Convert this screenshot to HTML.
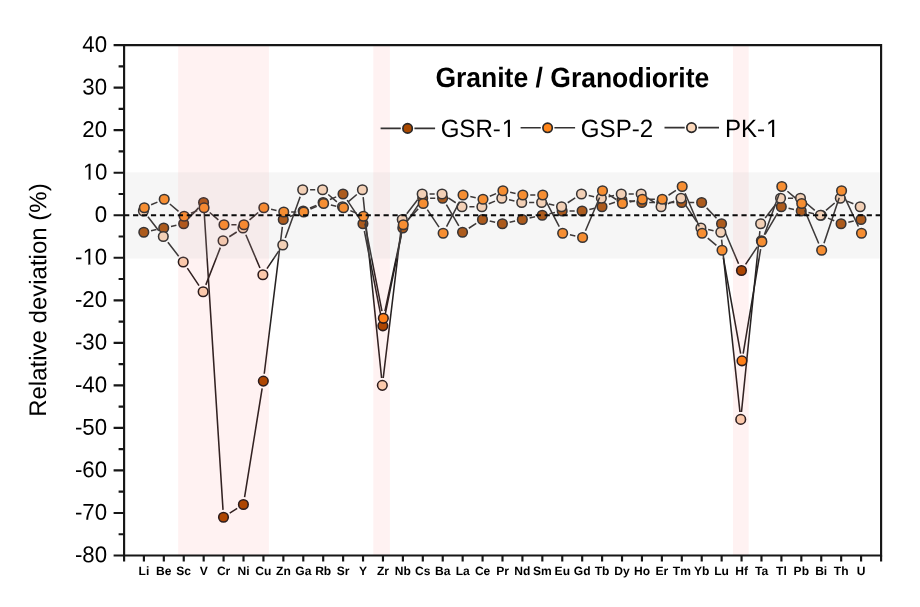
<!DOCTYPE html>
<html lang="en">
<head>
<meta charset="utf-8">
<title>Granite / Granodiorite – Relative deviation (%)</title>
<style>
html,body{margin:0;padding:0;background:#fff;}
body{width:920px;height:607px;overflow:hidden;position:relative;font-family:"Liberation Sans",Arial,sans-serif;}
</style>
</head>
<body>
<svg width="920" height="607" viewBox="0 0 920 607" style="display:block;position:absolute;left:0;top:0">
<rect x="0" y="0" width="920" height="607" fill="#fff"/>
<path d="M151.04 230.70L156.49 229.53M170.96 226.44L176.41 225.28M188.71 218.34L198.51 207.87M204.04 209.86L223.02 509.83M229.72 513.22L237.18 508.45M244.59 497.15L262.15 388.41M264.24 373.76L282.35 226.83M290.06 216.58L296.37 213.88M309.98 208.07L316.29 205.38M329.91 199.56L336.22 196.87M347.14 200.11L358.83 217.59M364.36 231.00L381.45 318.55M384.34 318.56L401.31 235.24M406.90 221.84L418.59 204.37M430.11 198.22L435.23 198.22M446.37 204.60L458.82 225.86M468.79 228.25L476.24 223.47M489.71 221.03L495.16 222.19M509.63 222.19L515.08 221.03M529.56 217.94L535.01 216.78M549.48 213.68L554.93 212.52M569.56 210.98L574.69 210.98M589.32 209.43L594.77 208.27M609.01 204.33L614.93 202.31M629.27 200.86L634.51 201.53M649.25 202.47L654.37 202.47M669.17 202.47L674.30 202.47M689.10 202.47L694.22 202.47M706.68 207.87L716.48 218.34M724.44 230.55L738.56 263.71M745.58 264.37L757.27 246.90M765.12 234.36L777.57 213.11M788.54 208.27L793.99 209.43M808.46 212.52L813.91 213.68M827.96 218.14L834.27 220.83M848.31 222.19L853.76 221.03" fill="none" stroke="#262222" stroke-width="1.55"/>
<g fill="#a94900" stroke="#201c1c" stroke-width="1.55">
<circle cx="143.80" cy="232.24" r="4.80"/>
<circle cx="163.72" cy="227.99" r="4.80"/>
<circle cx="183.65" cy="223.74" r="4.80"/>
<circle cx="203.57" cy="202.47" r="4.80"/>
<circle cx="223.49" cy="517.21" r="4.80"/>
<circle cx="243.41" cy="504.45" r="4.80"/>
<circle cx="263.33" cy="381.11" r="4.80"/>
<circle cx="283.26" cy="219.48" r="4.80"/>
<circle cx="303.18" cy="210.98" r="4.80"/>
<circle cx="323.10" cy="202.47" r="4.80"/>
<circle cx="343.02" cy="193.96" r="4.80"/>
<circle cx="362.94" cy="223.74" r="4.80"/>
<circle cx="382.87" cy="325.82" r="4.80"/>
<circle cx="402.79" cy="227.99" r="4.80"/>
<circle cx="422.71" cy="198.22" r="4.80"/>
<circle cx="442.63" cy="198.22" r="4.80"/>
<circle cx="462.55" cy="232.24" r="4.80"/>
<circle cx="482.48" cy="219.48" r="4.80"/>
<circle cx="502.40" cy="223.74" r="4.80"/>
<circle cx="522.32" cy="219.48" r="4.80"/>
<circle cx="542.24" cy="215.23" r="4.80"/>
<circle cx="562.16" cy="210.98" r="4.80"/>
<circle cx="582.09" cy="210.98" r="4.80"/>
<circle cx="602.01" cy="206.72" r="4.80"/>
<circle cx="621.93" cy="199.92" r="4.80"/>
<circle cx="641.85" cy="202.47" r="4.80"/>
<circle cx="661.77" cy="202.47" r="4.80"/>
<circle cx="681.70" cy="202.47" r="4.80"/>
<circle cx="701.62" cy="202.47" r="4.80"/>
<circle cx="721.54" cy="223.74" r="4.80"/>
<circle cx="741.46" cy="270.52" r="4.80"/>
<circle cx="761.38" cy="240.75" r="4.80"/>
<circle cx="781.31" cy="206.72" r="4.80"/>
<circle cx="801.23" cy="210.98" r="4.80"/>
<circle cx="821.15" cy="215.23" r="4.80"/>
<circle cx="841.07" cy="223.74" r="4.80"/>
<circle cx="860.99" cy="219.48" r="4.80"/>
</g>
<path d="M147.95 216.81L158.76 230.66M167.87 242.33L178.67 256.18M187.34 268.17L199.02 285.64M205.82 284.90L220.36 247.64M229.28 236.76L236.73 231.98M245.85 234.80L259.97 267.97M266.98 268.62L278.67 251.15M285.29 238.04L300.18 196.67M310.09 189.71L315.20 189.71M328.23 194.52L336.89 201.92M348.14 201.92L356.80 194.52M363.17 197.07L381.58 378.00M383.22 378.01L401.36 226.83M406.80 213.65L417.60 199.80M429.56 193.96L434.67 193.96M448.30 197.96L455.75 202.73M469.38 206.72L474.49 206.72M488.69 203.82L495.00 201.12M509.04 199.76L514.47 200.92M529.11 202.47L534.22 202.47M548.86 204.02L554.30 205.18M567.76 202.73L575.21 197.96M588.68 195.51L594.12 196.67M608.59 196.67L614.03 195.51M628.67 193.96L633.78 193.96M647.41 197.96L654.86 202.73M667.89 203.82L674.19 201.12M685.11 204.37L696.80 221.84M708.15 229.54L713.58 230.70M721.60 239.60L739.95 412.03M741.48 412.03L759.89 231.10M765.20 217.90L776.00 204.05M787.95 198.22L793.07 198.22M806.09 203.02L814.75 210.42M826.00 210.42L834.66 203.02M847.09 201.12L853.39 203.82" fill="none" stroke="#262222" stroke-width="1.55"/>
<g fill="#fbd3b4" stroke="#201c1c" stroke-width="1.55">
<circle cx="143.40" cy="210.98" r="4.80"/>
<circle cx="163.31" cy="236.50" r="4.80"/>
<circle cx="183.22" cy="262.02" r="4.80"/>
<circle cx="203.14" cy="291.79" r="4.80"/>
<circle cx="223.05" cy="240.75" r="4.80"/>
<circle cx="242.96" cy="227.99" r="4.80"/>
<circle cx="262.87" cy="274.78" r="4.80"/>
<circle cx="282.78" cy="245.00" r="4.80"/>
<circle cx="302.69" cy="189.71" r="4.80"/>
<circle cx="322.60" cy="189.71" r="4.80"/>
<circle cx="342.51" cy="206.72" r="4.80"/>
<circle cx="362.42" cy="189.71" r="4.80"/>
<circle cx="382.33" cy="385.36" r="4.80"/>
<circle cx="402.25" cy="219.48" r="4.80"/>
<circle cx="422.16" cy="193.96" r="4.80"/>
<circle cx="442.07" cy="193.96" r="4.80"/>
<circle cx="461.98" cy="206.72" r="4.80"/>
<circle cx="481.89" cy="206.72" r="4.80"/>
<circle cx="501.80" cy="198.22" r="4.80"/>
<circle cx="521.71" cy="202.47" r="4.80"/>
<circle cx="541.62" cy="202.47" r="4.80"/>
<circle cx="561.53" cy="206.72" r="4.80"/>
<circle cx="581.44" cy="193.96" r="4.80"/>
<circle cx="601.36" cy="198.22" r="4.80"/>
<circle cx="621.27" cy="193.96" r="4.80"/>
<circle cx="641.18" cy="193.96" r="4.80"/>
<circle cx="661.09" cy="206.72" r="4.80"/>
<circle cx="681.00" cy="198.22" r="4.80"/>
<circle cx="700.91" cy="227.99" r="4.80"/>
<circle cx="720.82" cy="232.24" r="4.80"/>
<circle cx="740.73" cy="419.39" r="4.80"/>
<circle cx="760.64" cy="223.74" r="4.80"/>
<circle cx="780.55" cy="198.22" r="4.80"/>
<circle cx="800.47" cy="198.22" r="4.80"/>
<circle cx="820.38" cy="215.23" r="4.80"/>
<circle cx="840.29" cy="198.22" r="4.80"/>
<circle cx="860.20" cy="206.72" r="4.80"/>
</g>
<path d="M151.11 204.82L157.42 202.12M169.85 204.02L178.52 211.42M190.95 213.32L197.26 210.63M209.70 212.53L218.36 219.93M231.39 224.74L236.51 224.74M249.54 219.93L258.21 212.53M271.07 209.27L276.52 210.43M291.16 211.98L296.28 211.98M310.48 209.07L316.79 206.38M330.84 205.02L336.29 206.18M350.33 210.63L356.64 213.32M364.86 223.49L381.95 311.05M384.91 311.07L401.75 231.97M408.35 219.34L418.15 208.87M427.33 209.62L439.02 227.09M446.55 226.68L459.64 201.53M470.29 196.51L475.74 197.67M489.78 196.31L496.09 193.62M510.13 192.26L515.58 193.42M530.22 194.96L535.34 194.96M546.16 201.53L559.25 226.68M569.90 234.79L575.35 235.95M585.49 230.69L599.61 197.52M608.74 194.70L616.20 199.48M629.67 201.93L635.12 200.76M649.75 199.22L654.87 199.22M668.51 195.23L675.96 190.45M685.10 193.27L699.22 226.43M707.75 238.05L716.41 245.45M723.35 257.54L740.65 353.56M743.18 353.54L760.66 249.05M764.39 234.79L779.30 193.42M787.43 191.26L796.10 198.66M804.63 210.28L818.75 243.45M824.00 243.24L839.22 197.73M844.71 197.41L858.36 226.54" fill="none" stroke="#262222" stroke-width="1.55"/>
<g fill="#ff8519" stroke="#201c1c" stroke-width="1.55">
<circle cx="144.30" cy="207.72" r="4.80"/>
<circle cx="164.22" cy="199.22" r="4.80"/>
<circle cx="184.15" cy="216.23" r="4.80"/>
<circle cx="204.07" cy="207.72" r="4.80"/>
<circle cx="223.99" cy="224.74" r="4.80"/>
<circle cx="243.91" cy="224.74" r="4.80"/>
<circle cx="263.83" cy="207.72" r="4.80"/>
<circle cx="283.76" cy="211.98" r="4.80"/>
<circle cx="303.68" cy="211.98" r="4.80"/>
<circle cx="323.60" cy="203.47" r="4.80"/>
<circle cx="343.52" cy="207.72" r="4.80"/>
<circle cx="363.44" cy="216.23" r="4.80"/>
<circle cx="383.37" cy="318.31" r="4.80"/>
<circle cx="403.29" cy="224.74" r="4.80"/>
<circle cx="423.21" cy="203.47" r="4.80"/>
<circle cx="443.13" cy="233.24" r="4.80"/>
<circle cx="463.05" cy="194.96" r="4.80"/>
<circle cx="482.98" cy="199.22" r="4.80"/>
<circle cx="502.90" cy="190.71" r="4.80"/>
<circle cx="522.82" cy="194.96" r="4.80"/>
<circle cx="542.74" cy="194.96" r="4.80"/>
<circle cx="562.66" cy="233.24" r="4.80"/>
<circle cx="582.59" cy="237.50" r="4.80"/>
<circle cx="602.51" cy="190.71" r="4.80"/>
<circle cx="622.43" cy="203.47" r="4.80"/>
<circle cx="642.35" cy="199.22" r="4.80"/>
<circle cx="662.27" cy="199.22" r="4.80"/>
<circle cx="682.20" cy="186.46" r="4.80"/>
<circle cx="702.12" cy="233.24" r="4.80"/>
<circle cx="722.04" cy="250.26" r="4.80"/>
<circle cx="741.96" cy="360.84" r="4.80"/>
<circle cx="761.88" cy="241.75" r="4.80"/>
<circle cx="781.81" cy="186.46" r="4.80"/>
<circle cx="801.73" cy="203.47" r="4.80"/>
<circle cx="821.65" cy="250.26" r="4.80"/>
<circle cx="841.57" cy="190.71" r="4.80"/>
<circle cx="861.49" cy="233.24" r="4.80"/>
</g>
<rect x="178.2" y="45.1" width="90.7" height="510.4" fill="#ff2020" fill-opacity="0.06"/>
<rect x="373.3" y="45.1" width="16.6" height="510.4" fill="#ff2020" fill-opacity="0.06"/>
<rect x="733" y="45.1" width="15.7" height="510.4" fill="#ff2020" fill-opacity="0.06"/>
<rect x="126.2" y="172.3" width="753.4" height="86.2" fill="#c3c3c3" fill-opacity="0.15"/>
<line x1="124.1" y1="215.2" x2="881.1" y2="215.2" stroke="#0a0a0a" stroke-width="2.15" stroke-dasharray="5.2 3.747"/>
<g stroke="#161616" stroke-width="2.15" fill="none" stroke-linecap="butt">
<path d="M124.1 45.1H881.1V555.5H124.1Z"/>
<path d="M124.1 555.49h-10.5M124.1 534.23h-5.5M124.1 512.96h-10.5M124.1 491.69h-5.5M124.1 470.43h-10.5M124.1 449.16h-5.5M124.1 427.89h-10.5M124.1 406.63h-5.5M124.1 385.36h-10.5M124.1 364.10h-5.5M124.1 342.83h-10.5M124.1 321.56h-5.5M124.1 300.30h-10.5M124.1 279.03h-5.5M124.1 257.76h-10.5M124.1 236.50h-5.5M124.1 215.23h-10.5M124.1 193.96h-5.5M124.1 172.70h-10.5M124.1 151.43h-5.5M124.1 130.16h-10.5M124.1 108.90h-5.5M124.1 87.63h-10.5M124.1 66.36h-5.5M124.1 45.10h-10.5M124.10 555.5v6M143.90 555.5v6M163.82 555.5v6M183.75 555.5v6M203.67 555.5v6M223.59 555.5v6M243.51 555.5v6M263.43 555.5v6M283.36 555.5v6M303.28 555.5v6M323.20 555.5v6M343.12 555.5v6M363.04 555.5v6M382.97 555.5v6M402.89 555.5v6M422.81 555.5v6M442.73 555.5v6M462.65 555.5v6M482.58 555.5v6M502.50 555.5v6M522.42 555.5v6M542.34 555.5v6M562.26 555.5v6M582.19 555.5v6M602.11 555.5v6M622.03 555.5v6M641.95 555.5v6M661.87 555.5v6M681.80 555.5v6M701.72 555.5v6M721.64 555.5v6M741.56 555.5v6M761.48 555.5v6M781.41 555.5v6M801.33 555.5v6M821.25 555.5v6M841.17 555.5v6M861.09 555.5v6M881.10 555.5v6"/>
</g>
<g font-family="'Liberation Sans', Arial, sans-serif" font-size="22.2" fill="#000" text-anchor="end">
<text transform="translate(107.0 562.3) rotate(0.05) scale(1 1.030)">-80</text>
<text transform="translate(107.0 519.8) rotate(0.05) scale(1 1.030)">-70</text>
<text transform="translate(107.0 477.2) rotate(0.05) scale(1 1.030)">-60</text>
<text transform="translate(107.0 434.7) rotate(0.05) scale(1 1.030)">-50</text>
<text transform="translate(107.0 392.2) rotate(0.05) scale(1 1.030)">-40</text>
<text transform="translate(107.0 349.6) rotate(0.05) scale(1 1.030)">-30</text>
<text transform="translate(107.0 307.1) rotate(0.05) scale(1 1.030)">-20</text>
<text transform="translate(107.0 264.6) rotate(0.05) scale(1 1.030)">-<tspan dx="0.4">1</tspan><tspan dx="-0.4">0</tspan></text>
<text transform="translate(107.0 222.0) rotate(0.05) scale(1 1.030)">0</text>
<text transform="translate(107.0 179.5) rotate(0.05) scale(1 1.030)"><tspan dx="0.4">1</tspan><tspan dx="-0.4">0</tspan></text>
<text transform="translate(107.0 137.0) rotate(0.05) scale(1 1.030)">20</text>
<text transform="translate(107.0 94.4) rotate(0.05) scale(1 1.030)">30</text>
<text transform="translate(107.0 51.9) rotate(0.05) scale(1 1.030)">40</text>
</g>
<g font-family="'Liberation Sans', Arial, sans-serif" font-size="12.05" font-weight="bold" fill="#000" text-anchor="middle">
<text transform="translate(143.9 575.0) rotate(0.05)">Li</text>
<text transform="translate(163.8 575.0) rotate(0.05)">Be</text>
<text transform="translate(183.7 575.0) rotate(0.05)">Sc</text>
<text transform="translate(203.7 575.0) rotate(0.05)">V</text>
<text transform="translate(223.6 575.0) rotate(0.05)">Cr</text>
<text transform="translate(243.5 575.0) rotate(0.05)">Ni</text>
<text transform="translate(263.4 575.0) rotate(0.05)">Cu</text>
<text transform="translate(283.4 575.0) rotate(0.05)">Zn</text>
<text transform="translate(303.3 575.0) rotate(0.05)">Ga</text>
<text transform="translate(323.2 575.0) rotate(0.05)">Rb</text>
<text transform="translate(343.1 575.0) rotate(0.05)">Sr</text>
<text transform="translate(363.0 575.0) rotate(0.05)">Y</text>
<text transform="translate(383.0 575.0) rotate(0.05)">Zr</text>
<text transform="translate(402.9 575.0) rotate(0.05)">Nb</text>
<text transform="translate(422.8 575.0) rotate(0.05)">Cs</text>
<text transform="translate(442.7 575.0) rotate(0.05)">Ba</text>
<text transform="translate(462.7 575.0) rotate(0.05)">La</text>
<text transform="translate(482.6 575.0) rotate(0.05)">Ce</text>
<text transform="translate(502.5 575.0) rotate(0.05)">Pr</text>
<text transform="translate(522.4 575.0) rotate(0.05)">Nd</text>
<text transform="translate(542.3 575.0) rotate(0.05)">Sm</text>
<text transform="translate(562.3 575.0) rotate(0.05)">Eu</text>
<text transform="translate(582.2 575.0) rotate(0.05)">Gd</text>
<text transform="translate(602.1 575.0) rotate(0.05)">Tb</text>
<text transform="translate(622.0 575.0) rotate(0.05)">Dy</text>
<text transform="translate(642.0 575.0) rotate(0.05)">Ho</text>
<text transform="translate(661.9 575.0) rotate(0.05)">Er</text>
<text transform="translate(681.8 575.0) rotate(0.05)">Tm</text>
<text transform="translate(701.7 575.0) rotate(0.05)">Yb</text>
<text transform="translate(721.6 575.0) rotate(0.05)">Lu</text>
<text transform="translate(741.6 575.0) rotate(0.05)">Hf</text>
<text transform="translate(761.5 575.0) rotate(0.05)">Ta</text>
<text transform="translate(781.4 575.0) rotate(0.05)">Tl</text>
<text transform="translate(801.3 575.0) rotate(0.05)">Pb</text>
<text transform="translate(821.2 575.0) rotate(0.05)">Bi</text>
<text transform="translate(841.2 575.0) rotate(0.05)">Th</text>
<text transform="translate(861.1 575.0) rotate(0.05)">U</text>
</g>
<text transform="translate(46.2 300.1) rotate(-89.95)" font-family="'Liberation Sans', Arial, sans-serif" font-size="24" text-anchor="middle" fill="#000">Relative deviation (%)</text>
<text transform="translate(435.4 87) rotate(0.05) scale(1 1.06)" textLength="273.9" lengthAdjust="spacingAndGlyphs" font-family="'Liberation Sans', Arial, sans-serif" font-size="26.45" font-weight="bold" fill="#000">Granite / Granodiorite</text>
<path d="M380.6 128.4H400.8M414.4 128.4H435.1" fill="none" stroke="#343232" stroke-width="1.6"/><circle cx="407.6" cy="128.4" r="4.7" fill="#a94900" stroke="#2a2828" stroke-width="1.7"/><text transform="translate(440.63 136.9) rotate(0.05) scale(1 1.04)" font-family="'Liberation Sans', Arial, sans-serif" font-size="24.1" fill="#000">GSR-<tspan dx="0.9">1</tspan></text>
<path d="M520.6 127.8H540.8M554.4 127.8H575.1" fill="none" stroke="#343232" stroke-width="1.6"/><circle cx="547.6" cy="127.8" r="4.7" fill="#ff8519" stroke="#2a2828" stroke-width="1.7"/><text transform="translate(580.83 136.9) rotate(0.05) scale(1 1.04)" font-family="'Liberation Sans', Arial, sans-serif" font-size="24.1" fill="#000">GSP-2</text>
<path d="M664.5 127.6H684.7M698.3 127.6H719.0" fill="none" stroke="#343232" stroke-width="1.6"/><circle cx="691.5" cy="127.6" r="4.7" fill="#fcd8bb" stroke="#2a2828" stroke-width="1.7"/><text transform="translate(724.90 136.9) rotate(0.05) scale(1 1.04)" font-family="'Liberation Sans', Arial, sans-serif" font-size="24.1" fill="#000">PK-<tspan dx="0.9">1</tspan></text>
<g fill="#fff"><rect x="84" y="262" width="4" height="1"/><rect x="88" y="262" width="1" height="1" fill-opacity="0.11"/><rect x="90" y="262" width="1" height="1" fill-opacity="0.37"/><rect x="91" y="262" width="3" height="1"/><rect x="84" y="263" width="4" height="1"/><rect x="88" y="263" width="1" height="1" fill-opacity="0.35"/><rect x="90" y="263" width="1" height="1" fill-opacity="0.71"/><rect x="91" y="263" width="3" height="1"/><rect x="84" y="264" width="4" height="1"/><rect x="90" y="264" width="1" height="1" fill-opacity="0.41"/><rect x="91" y="264" width="3" height="1"/><rect x="84" y="177" width="4" height="1"/><rect x="88" y="177" width="1" height="1" fill-opacity="0.26"/><rect x="90" y="177" width="1" height="1" fill-opacity="0.17"/><rect x="91" y="177" width="4" height="1"/><rect x="84" y="178" width="4" height="1"/><rect x="88" y="178" width="1" height="1" fill-opacity="0.59"/><rect x="90" y="178" width="1" height="1" fill-opacity="0.47"/><rect x="91" y="178" width="4" height="1"/><rect x="84" y="179" width="4" height="1"/><rect x="88" y="179" width="1" height="1" fill-opacity="0.17"/><rect x="91" y="179" width="4" height="1"/><rect x="503" y="135" width="4" height="1"/><rect x="507" y="135" width="1" height="1" fill-opacity="0.75"/><rect x="509" y="135" width="1" height="1" fill-opacity="0.05"/><rect x="510" y="135" width="4" height="1"/><rect x="503" y="136" width="4" height="1"/><rect x="507" y="136" width="1" height="1" fill-opacity="0.81"/><rect x="509" y="136" width="1" height="1" fill-opacity="0.07"/><rect x="510" y="136" width="4" height="1"/><rect x="767" y="135" width="5" height="1"/><rect x="772" y="135" width="1" height="1" fill-opacity="0.06"/><rect x="774" y="135" width="1" height="1" fill-opacity="0.75"/><rect x="775" y="135" width="4" height="1"/><rect x="767" y="136" width="5" height="1"/><rect x="772" y="136" width="1" height="1" fill-opacity="0.07"/><rect x="774" y="136" width="1" height="1" fill-opacity="0.81"/><rect x="775" y="136" width="4" height="1"/></g>
</svg>
</body>
</html>
